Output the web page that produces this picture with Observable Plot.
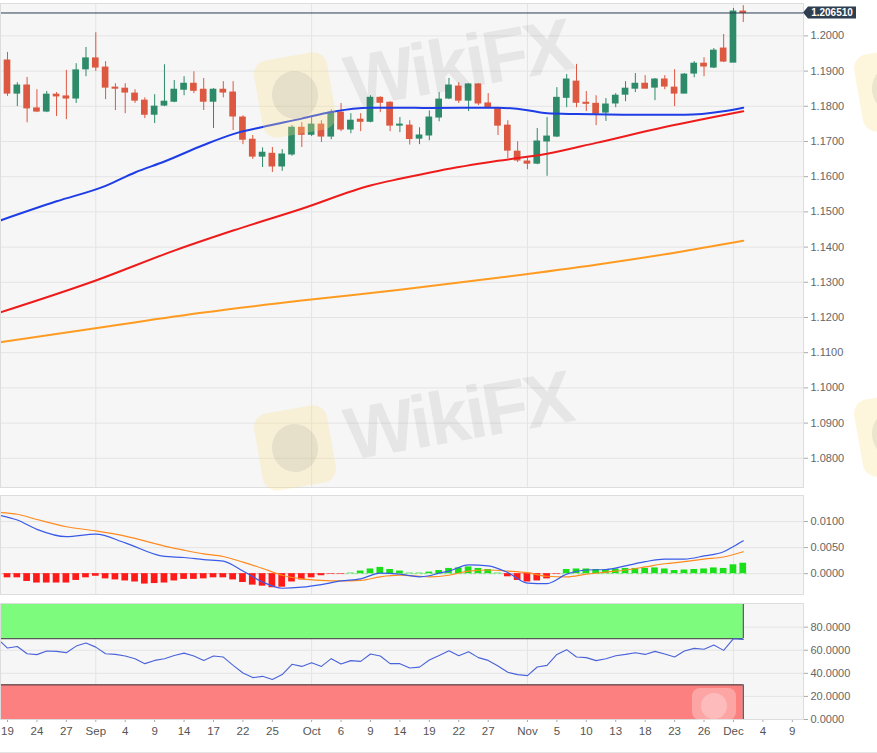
<!DOCTYPE html>
<html>
<head>
<meta charset="utf-8">
<script src="https://cdn.jsdelivr.net/npm/d3@7"></script>
<script src="https://cdn.jsdelivr.net/npm/@observablehq/plot@0.6"></script>
<style>
  html, body { margin: 0; padding: 0; background: #fff; overflow: hidden; }
  #chart { position: relative; width: 877px; height: 753px; overflow: hidden; }
  #chart svg { display: block; }
  .foot { height: 1px; background: #e4e4e4; }
  .wm-logo { position: absolute; width: 74px; height: 78px; border-radius: 14px; background: rgba(252, 224, 140, 0.3); transform: rotate(-10deg); pointer-events: none; }
  .wm-logo::after { content: ""; position: absolute; left: 14px; top: 15px; width: 46px; height: 48px; border-radius: 50%; background: rgba(110, 110, 110, 0.12); }
  .wm-small { width: 44px; height: 32px; border-radius: 8px; transform: none; background: rgba(255, 235, 235, 0.35); }
  .wm-small::after { left: 9px; top: 5px; width: 26px; height: 26px; background: rgba(255, 255, 255, 0.25); }
  .wm-text { position: absolute; font: bold 74px/74px "Liberation Sans", Arial, sans-serif; letter-spacing: -3px; color: rgba(90, 90, 90, 0.1); transform: rotate(-10deg); transform-origin: left bottom; white-space: nowrap; pointer-events: none; }
</style>
</head>
<body>
<div id="chart"></div>
<script>
// EUR/USD daily candles, session index 0 = 19 Aug 2020, last = 2 Dec 2020
const firstIdx = -1;
const open  = [1.1873,1.1930,1.1836,1.1859,1.1794,1.1785,1.1833,1.1828,1.1822,1.1905,1.1936,1.1910,1.1853,1.1850,1.1836,1.1816,1.1776,1.1802,1.1813,1.1847,1.1864,1.1847,1.1813,1.1847,1.1839,1.1768,1.1705,1.1657,1.1665,1.1629,1.1663,1.1739,1.1719,1.1748,1.1714,1.1782,1.1734,1.1762,1.1756,1.1824,1.1810,1.1745,1.1745,1.1708,1.1717,1.1768,1.1822,1.1856,1.1816,1.1862,1.1808,1.1793,1.1745,1.1671,1.1643,1.1637,1.1700,1.1714,1.1824,1.1870,1.1810,1.1807,1.1782,1.1808,1.1833,1.1850,1.1864,1.1853,1.1876,1.1853,1.1836,1.1893,1.1921,1.1910,1.1964,1.1924,1.2069];
const high  = [1.1966,1.1953,1.1867,1.1882,1.1847,1.1842,1.1839,1.1902,1.1921,1.1967,1.2009,1.1927,1.1864,1.1864,1.1847,1.1824,1.1833,1.1918,1.1873,1.1884,1.1898,1.1879,1.1850,1.1870,1.1870,1.1773,1.1717,1.1682,1.1683,1.1677,1.1745,1.1754,1.1768,1.1759,1.1790,1.1808,1.1779,1.1779,1.1830,1.1827,1.1813,1.1768,1.1759,1.1739,1.1787,1.1839,1.1879,1.1867,1.1864,1.1864,1.1836,1.1796,1.1759,1.1699,1.1657,1.1737,1.1768,1.1853,1.1890,1.1919,1.1842,1.1830,1.1822,1.1836,1.1870,1.1893,1.1887,1.1879,1.1887,1.1904,1.1893,1.1927,1.1938,1.1964,1.2004,1.2078,1.2086];
const low   = [1.1865,1.1828,1.1799,1.1753,1.1782,1.1782,1.1771,1.1762,1.1808,1.1884,1.1899,1.1819,1.1788,1.1779,1.1808,1.1765,1.1751,1.1799,1.1810,1.1830,1.1836,1.1788,1.1737,1.1824,1.1731,1.1691,1.1649,1.1626,1.1612,1.1615,1.1658,1.1683,1.1714,1.1697,1.1705,1.1728,1.1722,1.1728,1.1753,1.1782,1.1728,1.1725,1.1690,1.1691,1.1702,1.1756,1.1819,1.1808,1.1785,1.1802,1.1793,1.1717,1.1651,1.1640,1.1620,1.1634,1.1601,1.1711,1.1796,1.1796,1.1785,1.1745,1.1757,1.1796,1.1813,1.1839,1.1850,1.1816,1.1847,1.1799,1.1836,1.1881,1.1884,1.1907,1.1924,1.1924,1.2038];
const close = [1.1930,1.1836,1.1859,1.1794,1.1785,1.1833,1.1828,1.1822,1.1902,1.1936,1.1910,1.1853,1.1850,1.1839,1.1816,1.1776,1.1799,1.1813,1.1847,1.1864,1.1844,1.1813,1.1847,1.1839,1.1771,1.1705,1.1657,1.1668,1.1629,1.1663,1.1739,1.1719,1.1748,1.1714,1.1782,1.1734,1.1759,1.1756,1.1824,1.1810,1.1745,1.1748,1.1707,1.1717,1.1768,1.1819,1.1859,1.1816,1.1862,1.1808,1.1796,1.1745,1.1674,1.1646,1.1637,1.1700,1.1714,1.1824,1.1876,1.1810,1.1807,1.1779,1.1805,1.1830,1.1850,1.1864,1.1850,1.1876,1.1856,1.1836,1.1890,1.1921,1.1913,1.1958,1.1927,1.2069,1.20651];
const lastPrice = 1.206510;

// moving averages, read at sample sessions
const ma50Idx = [-1, 5, 10, 13, 16, 20, 23, 26, 30, 33, 37, 40, 43, 50, 53, 55, 58, 64, 69, 73, 75];
const ma50    = [1.1473,1.1530,1.1574,1.1612,1.1643,1.1690,1.1721,1.1741,1.1765,1.1784,1.1796,1.1796,1.1795,1.1796,1.1789,1.1780,1.1778,1.1776,1.1776,1.1786,1.1796];
const ma100Idx = [-1, 9, 17, 23, 30, 37, 40, 44, 50, 55, 60, 67, 75];
const ma100    = [1.1212,1.1305,1.1390,1.1447,1.1509,1.1575,1.1594,1.1617,1.1645,1.1665,1.1696,1.1741,1.1786];
const ma200Idx = [-1, 10, 20, 30, 40, 50, 60, 68, 75];
const ma200    = [1.1129,1.1174,1.1214,1.1248,1.1279,1.1313,1.1350,1.1384,1.1418];

// MACD
const hist = [-0.0008,-0.0008,-0.0008,-0.0015,-0.0018,-0.0018,-0.0018,-0.0018,-0.0013,-0.0008,-0.0005,-0.0010,-0.0012,-0.0014,-0.0016,-0.0020,-0.0019,-0.0018,-0.0014,-0.0011,-0.0011,-0.0010,-0.0008,-0.0008,-0.0012,-0.0017,-0.0022,-0.0024,-0.0027,-0.0026,-0.0016,-0.0012,-0.0008,-0.0004,-0.0001,-0.0001,0.0001,0.0005,0.0009,0.0012,0.0008,0.0005,0.0001,0.0001,0.0003,0.0006,0.0010,0.0011,0.0013,0.0010,0.0008,0.0001,-0.0006,-0.0013,-0.0016,-0.0014,-0.0010,-0.0001,0.0008,0.0009,0.0009,0.0008,0.0008,0.0009,0.0010,0.0010,0.0010,0.0011,0.0009,0.0006,0.0007,0.0008,0.0009,0.0011,0.0010,0.0017,0.0020];
const macdIdx = [-1, 1, 3, 6, 9, 12, 16, 18, 20, 22, 24, 26, 28, 30, 32, 34, 36, 38, 40, 42, 43, 44, 45, 47, 49, 51, 53, 55, 57, 59, 61, 63, 65, 67, 69, 71, 73, 74, 75];
const macd    = [0.0113,0.0103,0.0085,0.0071,0.0076,0.0059,0.0033,0.0031,0.0027,0.0024,0.0005,-0.0016,-0.0028,-0.0026,-0.0021,-0.0014,-0.0010,0.0001,-0.0001,-0.0006,-0.0004,0.0001,0.0005,0.0017,0.0015,0.0002,-0.0018,-0.0019,-0.0001,0.0007,0.0008,0.0015,0.0023,0.0028,0.0028,0.0034,0.0042,0.0052,0.0063];
const signalIdx = [-1, 1, 3, 6, 9, 12, 16, 18, 20, 22, 24, 26, 28, 30, 32, 34, 36, 38, 40, 42, 43, 45, 47, 49, 51, 53, 55, 57, 59, 61, 63, 65, 67, 69, 71, 73, 75];
const signal    = [0.0118,0.0114,0.0104,0.0090,0.0082,0.0072,0.0053,0.0045,0.0038,0.0033,0.0022,0.0010,-0.0003,-0.0010,-0.0013,-0.0014,-0.0013,-0.0006,-0.0003,-0.0005,-0.0006,-0.0003,0.0005,0.0007,0.0005,0.0002,-0.0005,-0.0006,-0.0001,0.0003,0.0007,0.0013,0.0019,0.0023,0.0028,0.0032,0.0042];

// RSI, one value per session
const rsi = [70.0,61.9,63.3,57.0,56.2,59.3,59.0,57.9,63.6,66.2,62.7,57.0,56.4,55.0,52.7,48.4,51.2,52.7,55.5,57.5,55.0,51.2,55.0,54.1,46.9,40.3,36.3,37.4,34.6,38.9,47.8,46.0,49.2,46.0,52.7,48.0,51.0,50.4,56.7,55.0,48.4,48.4,44.6,45.4,51.5,55.5,59.6,55.2,58.7,53.6,51.2,46.3,40.9,38.9,38.0,45.5,46.9,56.4,60.5,54.1,53.6,51.0,52.7,55.2,56.4,57.9,56.4,59.0,56.7,54.1,59.3,61.6,60.8,64.5,59.9,70.0,69.4];
const zones = [
  {lo: 70, hi: 100, edge: 70, fill: "#7dfb7d"},
  {lo: 0, hi: 30, edge: 30, fill: "#fc8080"}
];

// axes
const priceTicks = [1.08,1.09,1.10,1.11,1.12,1.13,1.14,1.15,1.16,1.17,1.18,1.19,1.20];
const macdTicks = [0, 0.005, 0.01];
const rsiTicks = [0, 20, 40, 60, 80];
const monthIdx = [9, 31, 53, 74];
const tickIdx = [0,3,6,9,12,15,18,21,24,27,31,34,37,40,43,46,49,53,56,59,62,65,68,71,74,77,80];
const tickLabels = ["19","24","27","Sep","4","9","14","17","22","25","Oct","6","9","14","19","22","27","Nov","5","10","13","18","23","26","Dec","4","9"];

const xDomain = [-0.714, 81.14];
const panelBg = "#f6f6f6", gridCol = "#e4e4e4", frameCol = "#dddddd";
const up = "#2d8b69", down = "#dc5840";

const idx = open.map((_, k) => k + firstIdx);
const candles = idx.map((i, k) => ({i, open: open[k], high: high[k], low: low[k], close: close[k]}));
const bars = idx.map((i, k) => ({i, h: hist[k]}));
const rsiPts = idx.map((i, k) => ({i, v: rsi[k]}));
const pts = (is, vs) => is.map((i, k) => ({i, v: vs[k]}));
const tone = d => d.close >= d.open ? up : down;
const tickLabel = new Map(tickIdx.map((d, k) => [d, tickLabels[k]]));
const lastIdx = idx[idx.length - 1];

const common = {
  width: 877,
  marginLeft: 0,
  marginRight: 74,
  x: {domain: xDomain, axis: null, label: null},
  color: {type: "identity"},
  style: {fontFamily: "'Liberation Sans', Arial, sans-serif", fontSize: "11px", color: "#666", background: "transparent", overflow: "visible"}
};
const grids = ticks => [
  Plot.frame({fill: panelBg}),
  Plot.gridY(ticks, {stroke: gridCol, strokeOpacity: 1}),
  Plot.gridX(monthIdx, {stroke: gridCol, strokeOpacity: 1})
];
const yAxis = (ticks, fmt) => Plot.axisY(ticks, {anchor: "right", tickFormat: fmt, tickSize: 4, tickPadding: 3, stroke: "#aaa", fill: "#666"});
const curveLine = (data, stroke, strokeWidth) => Plot.line(data, {x: "i", y: "v", stroke, strokeWidth, curve: "monotone-x", clip: true});

const main = Plot.plot({
  ...common,
  height: 491,
  marginTop: 3,
  marginBottom: 4,
  y: {domain: [1.0717, 1.2092], axis: null, label: null},
  marks: [
    ...grids(priceTicks),
    Plot.ruleX(candles, {x: "i", y1: "low", y2: "high", stroke: tone, clip: true}),
    Plot.rect(candles, {x1: d => d.i - 0.34, x2: d => d.i + 0.34, y1: "open", y2: "close", fill: tone, insetTop: -0.5, insetBottom: -0.5, clip: true}),
    curveLine(pts(ma200Idx, ma200), "#ff9b21", 2),
    curveLine(pts(ma100Idx, ma100), "#ee1b1b", 2),
    curveLine(pts(ma50Idx, ma50), "#1e3de6", 2),
    Plot.ruleY([lastPrice], {stroke: "#2c3e50", strokeWidth: 1}),
    yAxis(priceTicks, d3.format(".4f")),
    Plot.frame({stroke: frameCol})
  ]
});

// last price tag on the right axis
const tagX = main.scale("x").apply(xDomain[1]);
const tagY = main.scale("y").apply(lastPrice);
const tag = d3.select(main).append("g").attr("transform", `translate(${tagX},${tagY})`);
tag.append("path").attr("d", "M0,0L5,-6L53,-6L53,6L5,6Z").attr("fill", "#2c3e50");
tag.append("text")
  .attr("x", 29).attr("dy", "0.35em")
  .attr("text-anchor", "middle")
  .attr("fill", "#fff")
  .attr("font-weight", "bold")
  .attr("font-size", 10)
  .text(d3.format(".6f")(lastPrice));

const macdPlot = Plot.plot({
  ...common,
  height: 108,
  marginTop: 4,
  marginBottom: 5,
  y: {domain: [-0.004, 0.015], axis: null, label: null},
  marks: [
    ...grids(macdTicks),
    Plot.ruleY(bars, {x1: d => d.i - 0.5, x2: d => d.i + 0.5, y: 0, stroke: d => d.h < 0 ? "#f59a9a" : "#86e886", strokeDasharray: "3,3", clip: true}),
    Plot.rect(bars, {x1: d => d.i - 0.34, x2: d => d.i + 0.34, y1: 0, y2: "h", fill: d => d.h < 0 ? "#ff1a1a" : "#19e019", clip: true}),
    curveLine(pts(signalIdx, signal), "#ff8a1e", 1.2),
    curveLine(pts(macdIdx, macd), "#3a5be8", 1.2),
    yAxis(macdTicks, d3.format(".4f")),
    Plot.frame({stroke: frameCol})
  ]
});

const rsiPlot = Plot.plot({
  ...common,
  height: 153,
  marginTop: 4,
  marginBottom: 33,
  y: {domain: [0, 100.5], axis: null, label: null},
  marks: [
    ...grids(rsiTicks),
    Plot.rect(zones, {x1: idx[0], x2: lastIdx, y1: "lo", y2: "hi", fill: "fill", clip: true}),
    Plot.ruleY(zones, {x1: idx[0], x2: lastIdx, y: "edge", stroke: "#333", clip: true}),
    Plot.ruleX(zones, {x: lastIdx, y1: "lo", y2: "hi", stroke: "#333"}),
    Plot.line(rsiPts, {x: "i", y: "v", stroke: "#4a63d8", strokeWidth: 1.1, clip: true}),
    yAxis(rsiTicks, d3.format(".4f")),
    Plot.axisX(tickIdx, {anchor: "bottom", tickFormat: d => tickLabel.get(d), tickSize: 3, tickPadding: 4, stroke: "#aaa", fill: "#555", fontSize: 11.5}),
    Plot.frame({stroke: frameCol})
  ]
});

const chart = document.getElementById("chart");
chart.append(main, macdPlot, rsiPlot);
const foot = document.createElement("div");
foot.className = "foot";
chart.append(foot);

// WikiFX watermarks
const marks = [
  ["wm-logo", 258, 56], ["wm-text", 352, 46],
  ["wm-logo", 258, 409], ["wm-text", 352, 398],
  ["wm-logo", 858, 395], ["wm-logo", 858, 50],
  ["wm-logo wm-small", 692, 688]
];
for (const [cls, left, top] of marks) {
  const el = document.createElement("div");
  el.className = cls;
  el.style.left = left + "px";
  el.style.top = top + "px";
  if (cls === "wm-text") el.textContent = "WikiFX";
  chart.append(el);
}
</script>
</body>
</html>
